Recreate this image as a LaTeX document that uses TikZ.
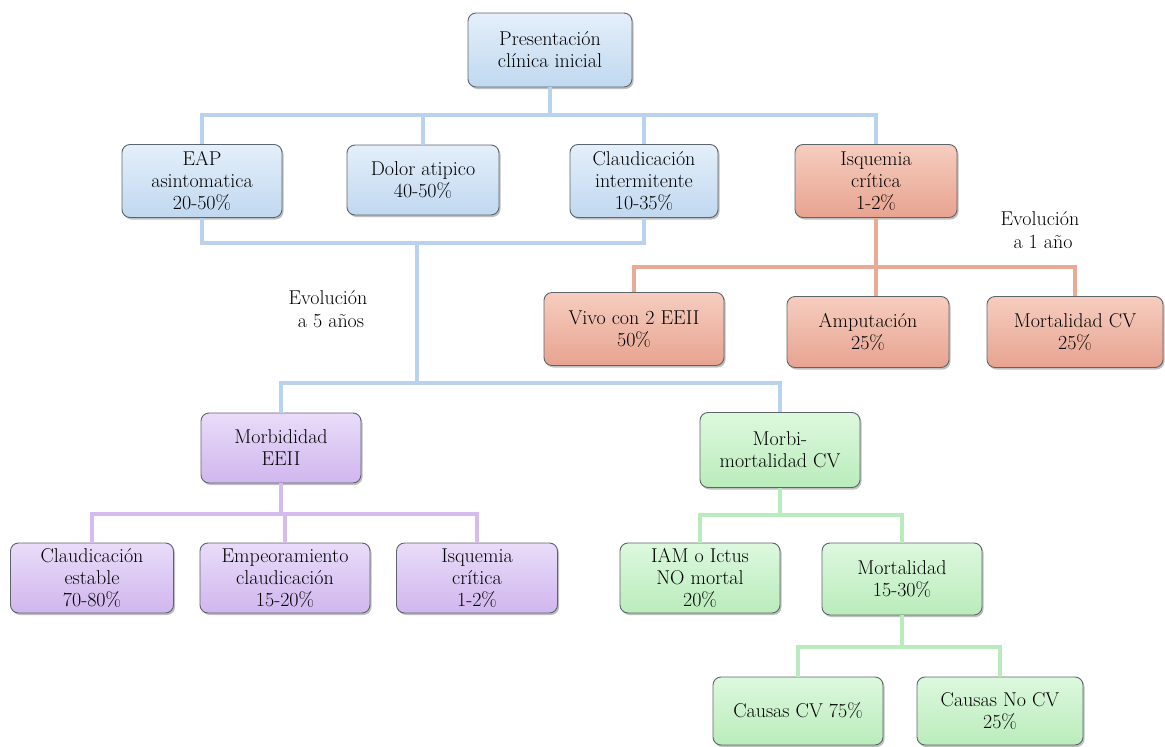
\documentclass[tikz,border=0pt]{standalone}
\usetikzlibrary{shadows}
\definecolor{blueF}{HTML}{C0D8F0}
\definecolor{blueT}{HTML}{E4EFFA}
\definecolor{blueL}{HTML}{B9D2EE}
\definecolor{redF}{HTML}{E8A390}
\definecolor{redT}{HTML}{F6CDBF}
\definecolor{redL}{HTML}{EBAA96}
\definecolor{purF}{HTML}{D0B6EE}
\definecolor{purT}{HTML}{E9DCF9}
\definecolor{purL}{HTML}{D4BCEE}
\definecolor{grnF}{HTML}{BAECBB}
\definecolor{grnT}{HTML}{DDF8DE}
\definecolor{grnL}{HTML}{B9EBBE}
\definecolor{edge}{HTML}{5E646C}
\begin{document}
\begin{tikzpicture}[x=1pt,y=-1pt,
  card/.style={rectangle, rounded corners=8pt, draw=edge, line width=0.9pt,
    align=center, inner sep=1pt, font=\rmfamily\fontsize{20}{22}\selectfont,
    drop shadow={shadow xshift=1.5pt, shadow yshift=-2pt, opacity=0.5}},
  bluebox/.style={card, top color=blueT, bottom color=blueF},
  redbox/.style={card, top color=redT, bottom color=redF},
  purbox/.style={card, top color=purT, bottom color=purF},
  grnbox/.style={card, top color=grnT, bottom color=grnF},
  bl/.style={draw=blueL, line width=3.5pt},
  rl/.style={draw=redL, line width=3.5pt},
  pl/.style={draw=purL, line width=3.5pt},
  gl/.style={draw=grnL, line width=3.5pt},
  lbl/.style={align=center, font=\rmfamily\fontsize{20}{23}\selectfont}
]
\useasboundingbox (0,0) rectangle (1165,747);

\coordinate (yA) at (0,115);
\coordinate (yB) at (0,243);
\coordinate (yC) at (0,383);
\coordinate (yR) at (0,267);
\coordinate (yP) at (0,514);
\coordinate (yG) at (0,515);
\coordinate (yH) at (0,647);
\coordinate (xM) at (417,0);

\path (550,50) node[bluebox, minimum width=164pt, minimum height=74pt] (top) {Presentación\\clínica inicial};
\path (202,181) node[bluebox, minimum width=160pt, minimum height=73pt] (eap) {EAP\\asintomatica\\20-50\%};
\path (423,180) node[bluebox, minimum width=152pt, minimum height=70pt] (dolor) {Dolor atipico\\40-50\%};
\path (644,181) node[bluebox, minimum width=148pt, minimum height=73pt] (claud) {Claudicación\\intermitente\\10-35\%};
\path (876,181) node[redbox, minimum width=162pt, minimum height=73pt] (isq) {Isquemia\\crítica\\1-2\%};

\path (634,329) node[redbox, minimum width=180pt, minimum height=73pt] (vivo) {Vivo con 2 EEII\\50\%};
\path (868,332) node[redbox, minimum width=162pt, minimum height=71pt] (amp) {Amputación\\25\%};
\path (1075,332) node[redbox, minimum width=176pt, minimum height=71pt] (mort) {Mortalidad CV\\25\%};

\path (281,448) node[purbox, minimum width=160pt, minimum height=70pt] (morb) {Morbididad\\EEII};
\path (780,450) node[grnbox, minimum width=160pt, minimum height=75pt] (mm) {Morbi-\\mortalidad CV};

\path (92,578) node[purbox, minimum width=163pt, minimum height=70pt] (ce) {Claudicación\\estable\\70-80\%};
\path (285,578) node[purbox, minimum width=170pt, minimum height=70pt] (emp) {Empeoramiento\\claudicación\\15-20\%};
\path (477,578) node[purbox, minimum width=161pt, minimum height=70pt] (iq2) {Isquemia\\crítica\\1-2\%};

\path (700,578) node[grnbox, minimum width=160pt, minimum height=70pt] (iam) {IAM o Ictus\\NO mortal\\20\%};
\path (902,579) node[grnbox, minimum width=160pt, minimum height=72pt] (mt) {Mortalidad\\15-30\%};

\path (798,711) node[grnbox, minimum width=170pt, minimum height=68pt] (ccv) {Causas CV 75\%};
\path (1000,711) node[grnbox, minimum width=166pt, minimum height=68pt] (cnc) {Causas No CV\\25\%};

\node[lbl] (evo5) at (328,309) {Evolución\\\hspace*{6pt}a 5 años};
\node[lbl] (evo1) at (1040,230) {Evolución\\\hspace*{6pt}a 1 año};

% blue connectors
\draw[bl] (top.south) -- (top.south |- yA);
\draw[bl] (eap.north) |- (isq.north |- yA) -- (isq.north);
\draw[bl] (dolor.north) -- (dolor.north |- yA);
\draw[bl] (claud.north) -- (claud.north |- yA);
\draw[bl] (eap.south) |- (claud.south |- yB) -- (claud.south);
\draw[bl] (xM |- yB) -- (xM |- yC);
\draw[bl] (morb.north) |- (mm.north |- yC) -- (mm.north);

% red connectors
\draw[rl] (isq.south) -- (isq.south |- amp.north);
\draw[rl] (vivo.north) |- (mort.north |- yR) -- (mort.north);

% purple connectors
\draw[pl] (morb.south) -- (morb.south |- yP);
\draw[pl] (ce.north) |- (iq2.north |- yP) -- (iq2.north);
\draw[pl] (emp.north) -- (emp.north |- yP);

% green connectors
\draw[gl] (mm.south) -- (mm.south |- yG);
\draw[gl] (iam.north) |- (mt.north |- yG) -- (mt.north);
\draw[gl] (mt.south) -- (mt.south |- yH);
\draw[gl] (ccv.north) |- (cnc.north |- yH) -- (cnc.north);
\end{tikzpicture}
\end{document}
